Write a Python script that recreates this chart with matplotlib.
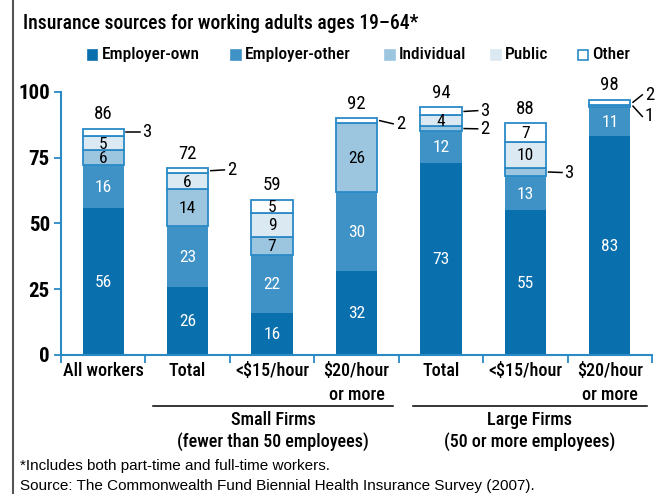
import numpy as np
import matplotlib.pyplot as plt
from matplotlib.transforms import blended_transform_factory
from matplotlib.lines import Line2D
from matplotlib.patches import Rectangle

plt.rcParams['font.family'] = ['Roboto Condensed', 'Archivo Narrow', 'DejaVu Sans']
plain = ['Liberation Sans', 'DejaVu Sans']

categories = ['All workers', 'Total', '<$15/hour', '$20/hour\nor more',
              'Total', '<$15/hour', '$20/hour\nor more']
employer_own = [56, 26, 16, 32, 73, 55, 83]
employer_other = [16, 23, 22, 30, 12, 13, 11]
individual = [6, 14, 7, 26, 2, 3, 1]
public = [5, 6, 9, 0, 4, 10, 0]
other = [3, 2, 5, 2, 3, 7, 2]
totals = [86, 72, 59, 92, 94, 88, 98]

series = [employer_own, employer_other, individual, public, other]
names = ['Employer-own', 'Employer-other', 'Individual', 'Public', 'Other']
fills = ['#0a6fad', '#3f92c5', '#9cc6e0', '#dbe9f3', '#ffffff']
edge = '#2a8ac6'
text_col = ['white', 'white', 'black', 'black', 'black']

# small segments labelled beside the bar: (bar, series) -> (text y, x gap)
outside = {(0, 4): (84.5, 0.2), (1, 4): (70.3, 0.2), (3, 4): (87.8, 0.2),
           (4, 4): (92.8, 0.2), (4, 2): (85.9, 0.2), (5, 2): (69.3, 0.2),
           (6, 4): (98.8, 0.15), (6, 2): (90.6, 0.15)}

fig = plt.figure(figsize=(6.55, 4.94), dpi=100)
ax = fig.add_axes([0.0931, 0.2814, 0.9023, 0.533])

x = np.arange(len(categories))
w = 0.49
bottom = np.zeros(len(categories))
for k, vals in enumerate(series):
    vals = np.array(vals, dtype=float)
    lw = 0 if k < 2 else 1.3
    ax.bar(x, vals, w, bottom=bottom, color=fills[k], edgecolor=edge,
           linewidth=lw, zorder=2)
    for i, v in enumerate(vals):
        if v == 0:
            continue
        mid = bottom[i] + v / 2
        if (i, k) in outside:
            ty, gap = outside[(i, k)]
            x0 = x[i] + w / 2 + 0.03
            ax.plot([x0, x0 + gap - 0.04], [mid, ty], color='black', lw=1.1,
                    clip_on=False, zorder=3)
            ax.text(x0 + gap - 0.01, ty, f'{v:.0f}', ha='left', va='center',
                    fontsize=13.5, color='black')
        else:
            ax.text(x[i], mid + 0.2, f'{v:.0f}', ha='center', va='center_baseline',
                    fontsize=12.5, color=text_col[k])
    bottom += vals

for i, t in enumerate(totals):
    ax.text(x[i], bottom[i] + 2.0, str(t), ha='center', va='bottom',
            fontsize=13.5, color='black')

ax.set_xlim(-0.5, len(categories) - 0.5)
ax.set_ylim(0, 100)
for s in ['top', 'right']:
    ax.spines[s].set_visible(False)
for s in ['left', 'bottom']:
    ax.spines[s].set_color(edge)
    ax.spines[s].set_linewidth(1.5)
ax.set_yticks([0, 25, 50, 75, 100])
ax.tick_params(axis='y', colors=edge, length=5, width=1.3, labelsize=15,
               labelcolor='black', pad=3)
for lab in ax.get_yticklabels():
    lab.set_fontweight('bold')
ax.set_xticks(x)
ax.set_xticklabels(categories, fontsize=13, fontweight='medium',
                   linespacing=1.45, va='top')
ax.set_xticks(np.arange(len(categories) + 1) - 0.5, minor=True)
ax.tick_params(axis='x', which='major', length=0, pad=5)
ax.tick_params(axis='x', which='minor', length=6, width=1.3, colors=edge)

# group brackets under the firm-size columns
tr = blended_transform_factory(ax.transData, fig.transFigure)
groups = [(0.59, 3.43, 'Small Firms\n(fewer than 50 employees)'),
          (3.67, 6.44, 'Large Firms\n(50 or more employees)')]
for x0, x1, label in groups:
    fig.add_artist(Line2D([x0, x1], [0.178, 0.178], transform=tr,
                          color='black', lw=1.1))
    fig.text((x0 + x1) / 2, 0.1275, label, transform=tr, ha='center',
             va='center', fontsize=13, fontweight='medium', linespacing=1.25)

fig.text(0.035, 0.953, 'Insurance sources for working adults ages 19\u201364*',
         fontsize=14.1, fontweight='medium', va='center')

# legend row
leg_x = [0.134, 0.353, 0.588, 0.75, 0.883]
for lx, name, fc in zip(leg_x, names, fills):
    fig.add_artist(Rectangle((lx, 0.878), 0.0145, 0.02, transform=fig.transFigure,
                             facecolor=fc, edgecolor=edge if fc == '#ffffff' else fc,
                             lw=1.2))
    fig.text(lx + 0.021, 0.889, name, fontsize=12.5, fontweight='medium',
             va='center')

fig.text(0.031, 0.057, '*Includes both part-time and full-time workers.',
         fontsize=11, family=plain, va='center')
fig.text(0.031, 0.016,
         'Source: The Commonwealth Fund Biennial Health Insurance Survey (2007).',
         fontsize=11, family=plain, va='center')

fig.add_artist(Line2D([0.02, 0.02], [0, 1], transform=fig.transFigure,
                      color='#555555', lw=1.5))

fig.savefig('out.png', dpi=100)
